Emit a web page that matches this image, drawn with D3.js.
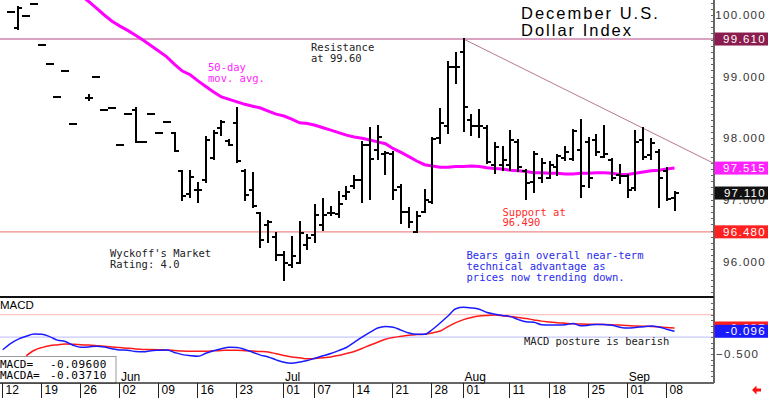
<!DOCTYPE html>
<html><head><meta charset="utf-8">
<script src="https://cdn.jsdelivr.net/npm/d3@7"></script>
<style>html,body{margin:0;padding:0;background:#fff}svg{display:block}</style>
</head><body>
<svg id="c" width="768" height="398"></svg>
<script>
// ---------- DATA ----------
const days = ["05-12","05-13","05-14","05-15","05-16","05-19","05-20","05-21","05-22","05-23",
"05-26","05-27","05-28","05-29","05-30","06-02","06-03","06-04","06-05","06-06",
"06-09","06-10","06-11","06-12","06-13","06-16","06-17","06-18","06-19","06-20",
"06-23","06-24","06-25","06-26","06-27","06-30","07-01","07-02","07-03","07-04",
"07-07","07-08","07-09","07-10","07-11","07-14","07-15","07-16","07-17","07-18",
"07-21","07-22","07-23","07-24","07-25","07-28","07-29","07-30","07-31","08-01",
"08-04","08-05","08-06","08-07","08-08","08-11","08-12","08-13","08-14","08-15",
"08-18","08-19","08-20","08-21","08-22","08-25","08-26","08-27","08-28","08-29",
"09-01","09-02","09-03","09-04","09-05","09-08","09-09"];

const open = [null,100.05,99.79,99.98,100.18,99.52,99.20,98.67,99.09,98.23,
null,98.66,99.00,98.45,98.49,97.89,98.40,98.46,97.94,98.39,
98.09,98.26,98.09,97.47,97.09,97.16,97.32,97.68,98.17,97.95,
98.24,97.46,97.16,96.79,96.59,96.40,96.10,95.94,95.98,96.27,
96.43,96.59,96.79,96.77,97.06,97.22,97.32,97.89,97.81,97.75,
97.75,97.21,96.81,96.48,96.81,96.97,98.00,98.19,99.15,99.40,
98.30,98.19,98.16,97.56,97.56,97.56,97.94,97.46,97.29,97.35,
97.35,97.53,97.68,97.67,97.81,97.94,97.97,97.70,97.64,97.40,
97.38,97.19,97.97,97.73,97.78,97.46,97.03];
const high = [null,100.05,100.13,99.98,100.18,99.52,99.20,98.67,99.09,98.23,
null,98.70,99.00,98.45,98.49,97.89,98.40,98.49,97.94,98.39,
98.09,98.26,98.09,97.47,97.46,97.27,98.02,98.12,98.28,97.97,
98.49,97.48,97.43,96.79,96.66,96.46,96.16,96.40,96.64,96.43,
96.92,97.01,96.89,97.12,97.21,97.39,97.94,98.16,98.19,97.78,
97.78,97.24,96.86,96.81,97.16,98.00,98.47,99.24,99.38,99.61,
98.38,98.46,98.19,97.92,97.86,98.11,97.97,97.48,97.78,97.66,
97.62,97.73,97.86,98.13,98.30,98.00,98.05,98.19,97.67,97.56,
97.40,98.11,98.16,97.98,97.81,97.51,97.12];
const low = [null,100.05,99.78,99.98,100.18,99.52,99.20,98.67,99.09,98.23,
null,98.62,99.00,98.45,98.49,97.89,98.40,97.94,97.94,98.39,
98.09,98.26,97.79,97.00,97.04,96.97,97.29,97.67,98.05,97.89,
97.62,97.00,96.89,96.24,96.32,96.02,95.69,95.91,95.97,96.20,
96.31,96.51,96.75,96.72,97.02,97.19,96.97,97.02,97.67,97.42,
97.02,96.63,96.56,96.47,96.81,96.94,97.92,98.08,98.89,98.11,
98.05,98.02,97.59,97.43,97.48,97.48,97.46,97.02,97.13,97.29,
97.35,97.40,97.65,97.65,97.05,97.21,97.73,97.70,97.32,97.27,
97.05,97.16,97.67,97.67,96.89,97.00,96.83];
const close = [null,100.05,100.12,99.98,100.18,99.52,99.20,98.67,99.09,98.23,
null,98.66,99.00,98.45,98.49,97.89,98.40,97.94,97.94,98.39,
98.09,98.26,97.79,97.06,97.37,97.16,97.97,98.08,98.26,97.89,
97.63,97.08,96.90,96.35,96.64,96.10,95.98,96.09,96.46,96.38,
96.75,96.76,96.79,96.93,97.13,97.32,97.89,97.67,98.02,97.76,
97.16,96.80,96.64,96.73,97.00,97.98,98.24,99.15,99.15,98.51,
98.19,98.19,97.62,97.86,97.65,97.97,97.54,97.27,97.74,97.60,
97.56,97.71,97.78,98.11,97.22,97.35,97.78,97.75,97.35,97.38,
97.16,97.94,97.70,97.92,97.35,97.02,97.11];

const ma50 = [null,null,null,null,null,null,null,null,null,null,
100.32,100.22,100.11,100.00,99.90,99.82,99.75,99.67,99.59,99.50,
99.41,99.32,99.20,99.09,99.03,98.93,98.84,98.75,98.67,98.63,
98.59,98.55,98.52,98.49,98.44,98.39,98.36,98.31,98.25,98.24,
98.21,98.17,98.13,98.09,98.05,98.02,98.00,97.97,97.94,97.91,
97.83,97.77,97.70,97.63,97.57,97.55,97.53,97.53,97.54,97.54,
97.55,97.54,97.52,97.51,97.50,97.48,97.47,97.46,97.44,97.44,
97.43,97.43,97.42,97.42,97.43,97.43,97.44,97.44,97.43,97.41,
97.41,97.43,97.45,97.47,97.48,97.50,97.515];

const macd = [-0.424,-0.315,-0.235,-0.185,-0.144,-0.149,-0.190,-0.253,-0.279,-0.343,
-0.381,-0.375,-0.361,-0.375,-0.406,-0.429,-0.432,-0.456,-0.461,-0.441,
-0.434,-0.429,-0.473,-0.511,-0.530,-0.541,-0.488,-0.441,-0.406,-0.381,
-0.383,-0.420,-0.468,-0.520,-0.552,-0.605,-0.648,-0.665,-0.642,-0.616,
-0.575,-0.532,-0.491,-0.440,-0.384,-0.292,-0.201,-0.116,-0.037,-0.009,
-0.023,-0.075,-0.126,-0.148,-0.149,-0.064,0.052,0.176,0.306,0.331,
0.320,0.297,0.237,0.208,0.185,0.165,0.112,0.073,0.064,0.020,
0.016,0.016,0.020,0.043,0.002,0.012,0.027,0.023,0.011,-0.023,
-0.039,-0.028,-0.014,-0.002,-0.020,-0.059,-0.096];
const macdAvg = [null,null,null,-0.534,-0.438,-0.386,-0.352,-0.338,-0.324,-0.327,
-0.335,-0.342,-0.352,-0.363,-0.374,-0.384,-0.397,-0.409,-0.418,-0.422,
-0.425,-0.429,-0.438,-0.447,-0.450,-0.450,-0.450,-0.443,-0.438,-0.432,
-0.432,-0.440,-0.447,-0.454,-0.465,-0.495,-0.525,-0.552,-0.568,-0.584,
-0.580,-0.566,-0.553,-0.525,-0.491,-0.454,-0.402,-0.345,-0.290,-0.237,
-0.206,-0.185,-0.165,-0.155,-0.148,-0.125,-0.091,-0.012,0.059,0.112,
0.149,0.176,0.187,0.192,0.181,0.167,0.149,0.130,0.107,0.085,
0.071,0.057,0.048,0.039,0.034,0.030,0.028,0.025,0.020,0.014,
0.007,0.000,-0.005,-0.009,-0.016,-0.030,-0.0371];

const legendLabels = ["MACD=", "MACDA="];
const legendValues = ["-0.09600", "-0.03710"];
const priceTicks = [100, 99, 98, 97, 96];
const macdTicks = [-0.5];
const macdRefLines = [0.2, -0.2];
const dateTickIdx = [0,5,10,15,20,25,30,36,40,45,50,55,59,65,70,75,80,85];
const dateTickLabels = ["12","19","26","02","09","16","23","01","07","14","21","28","01","11","18","25","01","08"];
const monthIdx = [15,36,59,80];
const monthLabels = ["Jun","Jul","Aug","Sep"];
const resistance = 99.61, support = 96.48;
const trendLine = [[59, 99.61], [91.05, 97.59]];
const priceBoxes = [
  {v: 99.61, label: "99.610", fill: "#8b1c4e"},
  {v: 97.515, label: "97.515", fill: "#ff22ff"},
  {v: 97.11, label: "97.110", fill: "#111111"},
  {v: 96.48, label: "96.480", fill: "#ff2020"}
];
const macdBoxes = [
  {v: -0.037, label: "-0.037", fill: "#ff2020"},
  {v: -0.096, label: "-0.096", fill: "#1a1aff"}
];

// ---------- LAYOUT ----------
const plotR = 714, mainBot = 297, macdTop = 298, macdBot = 383;
const svg = d3.select("#c");
const x = d3.scaleLinear().domain([0, 85]).range([2.7, 666.7]);
const y = d3.scaleLinear().domain([100, 96]).range([15, 261.4]);
const ym = d3.scaleLinear().domain([0, -0.5]).range([325.9, 354]);
const SANS = "'Liberation Sans', Arial, sans-serif";
const MONO = "'DejaVu Sans Mono', monospace";

const defs = svg.append("defs");
defs.append("clipPath").attr("id","cm").append("rect").attr("x",0).attr("y",0).attr("width",plotR).attr("height",mainBot);
defs.append("clipPath").attr("id","cd").append("rect").attr("x",0).attr("y",macdTop).attr("width",plotR).attr("height",macdBot-macdTop);

svg.append("rect").attr("width",768).attr("height",398).attr("fill","#fff");

const gm = svg.append("g").attr("clip-path","url(#cm)");

// horizontal levels
gm.append("line").attr("x1",0).attr("x2",plotR).attr("y1",y(resistance)).attr("y2",y(resistance))
  .attr("stroke","#d8a2c0").attr("stroke-width",2);
gm.append("line").attr("x1",0).attr("x2",plotR).attr("y1",y(support)).attr("y2",y(support))
  .attr("stroke","#f08a8a").attr("stroke-width",1.2);
// trend line
gm.append("line").attr("x1",x(trendLine[0][0])).attr("y1",y(trendLine[0][1]))
  .attr("x2",x(trendLine[1][0])).attr("y2",y(trendLine[1][1]))
  .attr("stroke","#b87896").attr("stroke-width",1);

// moving average
const maLine = d3.line().defined(d => d != null).x((d,i) => x(i)).y(d => y(d));
gm.append("path").attr("d", maLine(ma50)).attr("fill","none").attr("stroke","#ff00ff").attr("stroke-width",3);

// OHLC bars
const bars = gm.append("g").attr("stroke","#000").attr("stroke-width",2).attr("shape-rendering","crispEdges");
days.forEach((d,i) => {
  if (open[i] == null) return;
  const cx = Math.round(x(i));
  const hy = Math.round(y(high[i])), ly = Math.round(y(low[i]));
  if (ly - hy >= 1) bars.append("line").attr("x1",cx).attr("x2",cx).attr("y1",hy - 1).attr("y2",ly + 1);
  bars.append("line").attr("x1",cx - 4).attr("x2",cx).attr("y1",Math.round(y(open[i]))).attr("y2",Math.round(y(open[i])));
  bars.append("line").attr("x1",cx).attr("x2",cx + 4).attr("y1",Math.round(y(close[i]))).attr("y2",Math.round(y(close[i])));
});

// annotations
function multi(g, lines, x0, y0, dy, color, font, size, ls) {
  lines.forEach((t,k) => g.append("text").attr("x",x0).attr("y",y0 + k*dy).text(t)
    .attr("fill",color).attr("font-family",font).attr("font-size",size).attr("letter-spacing",ls));
}
multi(svg, ["December U.S.","Dollar Index"], 521, 19, 16.5, "#000", SANS, 16.5, 2);
multi(svg, ["Resistance","at 99.60"], 311, 50.5, 11, "#222", MONO, 10.5, 0);
multi(svg, ["50-day","mov. avg."], 208, 70.5, 11, "#ff22ff", MONO, 10.5, 0);
multi(svg, ["Support at","96.490"], 502.5, 215.5, 10.5, "#ff2a2a", MONO, 10.5, 0);
multi(svg, ["Wyckoff's Market","Rating: 4.0"], 110, 256.5, 11, "#222", MONO, 10.5, 0);
multi(svg, ["Bears gain overall near-term","technical advantage as","prices now trending down."], 466.5, 259, 10.8, "#2a2aee", MONO, 10.5, 0);

// panel separator
svg.append("line").attr("x1",0).attr("x2",plotR).attr("y1",297).attr("y2",297).attr("stroke","#111").attr("stroke-width",2);

// ---------- MACD PANEL ----------
const gd = svg.append("g").attr("clip-path","url(#cd)");
gd.append("line").attr("x1",0).attr("x2",plotR).attr("y1",ym(macdRefLines[0])).attr("y2",ym(macdRefLines[0]))
  .attr("stroke","#ffc4c4").attr("stroke-width",1.2);
gd.append("line").attr("x1",0).attr("x2",plotR).attr("y1",ym(macdRefLines[1])).attr("y2",ym(macdRefLines[1]))
  .attr("stroke","#c8c8ff").attr("stroke-width",1.2);
const mLine = d3.line().defined(d => d != null).x((d,i) => x(i)).y(d => ym(d)).curve(d3.curveMonotoneX);
gd.append("path").attr("d", mLine(macdAvg)).attr("fill","none").attr("stroke","#ff1a1a").attr("stroke-width",1.5);
gd.append("path").attr("d", mLine(macd)).attr("fill","none").attr("stroke","#1a1aff").attr("stroke-width",1.5);

svg.append("text").attr("x",0).attr("y",309).text("MACD").attr("font-family",SANS).attr("font-size",11.5).attr("fill","#000");
svg.append("text").attr("x",524).attr("y",344.5).text("MACD posture is bearish")
  .attr("font-family",MONO).attr("font-size",10.5).attr("fill","#222");

// legend box
svg.append("rect").attr("x",-1).attr("y",356.5).attr("width",117).attr("height",27).attr("fill","#fff").attr("stroke","#999");
legendLabels.forEach((lab,k) => {
  svg.append("text").attr("x",0).attr("y",367.5 + k*11.5).text(lab).attr("font-family",MONO).attr("font-size",11).attr("fill","#000");
  svg.append("text").attr("x",50).attr("y",367.5 + k*11.5).text(legendValues[k])
    .attr("font-family",MONO).attr("font-size",11).attr("letter-spacing",0.5).attr("fill","#000");
});

// month labels
monthIdx.forEach((i,k) => svg.append("text").attr("x",x(i) + 1).attr("y",381).text(monthLabels[k])
  .attr("font-family",SANS).attr("font-size",12).attr("fill","#000"));

// ---------- AXES ----------
svg.append("line").attr("x1",plotR).attr("x2",plotR).attr("y1",0).attr("y2",macdBot).attr("stroke","#333").attr("stroke-width",1.5);
svg.append("line").attr("x1",0).attr("x2",plotR).attr("y1",macdBot).attr("y2",macdBot).attr("stroke","#333").attr("stroke-width",1.5);

// minor ticks on right axis
const minor = svg.append("g").attr("stroke","#666").attr("stroke-width",1);
d3.range(95.5, 100.25, 0.1).forEach(v => {
  const yy = Math.round(y(v)) + 0.5;
  if (yy > 0 && yy < mainBot) minor.append("line").attr("x1",plotR-3).attr("x2",plotR).attr("y1",yy).attr("y2",yy);
});
d3.range(-1.0, 0.5, 0.1).forEach(v => {
  const yy = Math.round(ym(v)) + 0.5;
  if (yy > macdTop && yy < macdBot) minor.append("line").attr("x1",plotR-3).attr("x2",plotR).attr("y1",yy).attr("y2",yy);
});

// price axis labels
const yAxis = d3.axisRight(y).tickValues(priceTicks).tickFormat(d3.format(".3f")).tickSize(0);
const ya = svg.append("g").attr("transform",`translate(${plotR},0)`).call(yAxis);
ya.select(".domain").remove();
ya.selectAll("text").attr("x",52).attr("text-anchor","end").attr("font-family",SANS).attr("font-size",11.5)
  .attr("letter-spacing",1.3).attr("fill","#333");

const mAxis = d3.axisRight(ym).tickValues(macdTicks).tickFormat(d3.format(".3f")).tickSize(0);
const ma = svg.append("g").attr("transform",`translate(${plotR},0)`).call(mAxis);
ma.select(".domain").remove();
ma.selectAll("text").attr("x",2).attr("font-family",SANS).attr("font-size",11.5)
  .attr("letter-spacing",1.3).attr("fill","#333");

// value boxes
function box(b, scale) {
  const cy = scale(b.v);
  svg.append("rect").attr("x",plotR+0.5).attr("y",cy-6.5).attr("width",768-plotR).attr("height",13).attr("fill",b.fill);
  svg.append("text").attr("x",766).attr("y",cy+4.2).attr("text-anchor","end").text(b.label)
    .attr("font-family",SANS).attr("font-size",11.5).attr("letter-spacing",1.3).attr("fill","#fff");
}
priceBoxes.forEach(b => box(b, y));
macdBoxes.forEach(b => box(b, ym));

// date axis
const dg = svg.append("g");
dateTickIdx.forEach((i,k) => {
  const tx = Math.round(x(i)) - 0.5;
  dg.append("line").attr("x1",tx).attr("x2",tx).attr("y1",macdBot).attr("y2",398).attr("stroke","#222").attr("stroke-width",1);
  dg.append("text").attr("x",tx + 3).attr("y",393.5).text(dateTickLabels[k])
    .attr("font-family",SANS).attr("font-size",12).attr("fill","#000");
});

// red arrow
svg.append("path").attr("d","M752,390 L756.5,385.5 L756.5,388.5 L761,388.5 L761,391.5 L756.5,391.5 L756.5,394.5 Z").attr("fill","#ff1010");
</script>
</body></html>
